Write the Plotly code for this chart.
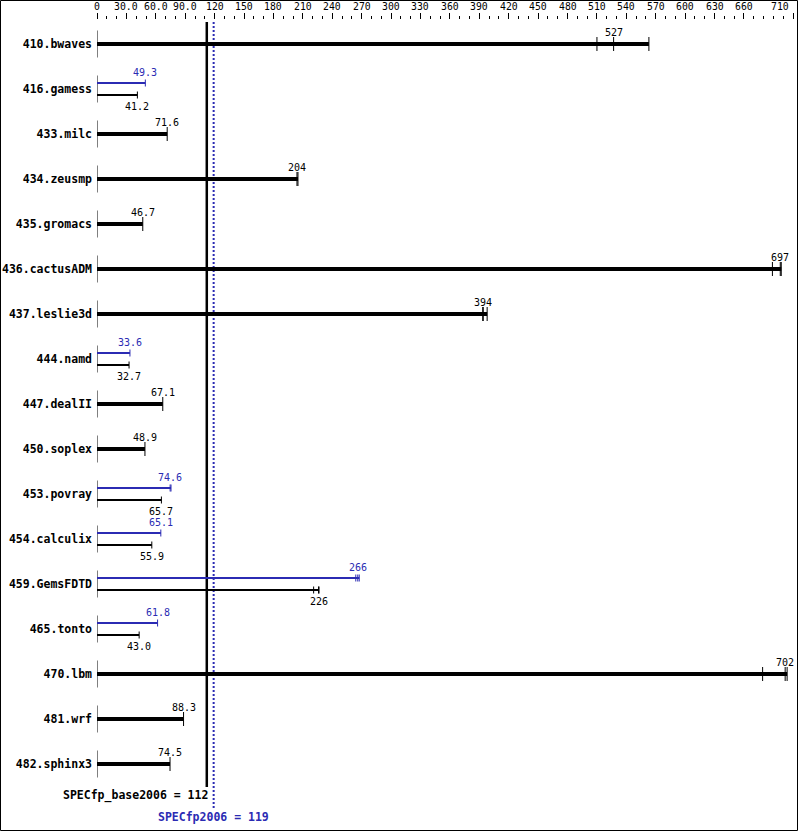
import plotly.graph_objects as go

benchmarks = ["410.bwaves", "416.gamess", "433.milc", "434.zeusmp", "435.gromacs",
              "436.cactusADM", "437.leslie3d", "444.namd", "447.dealII", "450.soplex",
              "453.povray", "454.calculix", "459.GemsFDTD", "465.tonto", "470.lbm",
              "481.wrf", "482.sphinx3"]
base_ratio = [527, 41.2, 71.6, 204, 46.7, 697, 394, 32.7, 67.1, 48.9,
              65.7, 55.9, 226, 43.0, 702, 88.3, 74.5]
base_runs = [[510, 527, 563], [41.2], [71.6], [204, 205], [46.7], [689, 697, 698],
             [393.5, 394, 398], [32.7], [67.1], [48.9], [65.7], [55.9],
             [221, 226, 226.5], [43.0], [679, 702, 704], [88.3], [74.5]]
peak_ratio = [None, 49.3, None, None, None, None, None, 33.6, None, None,
              74.6, 65.1, 266, 61.8, None, None, None]
peak_runs = [None, [49.3], None, None, None, None, None, [33.6], None, None,
             [74.6, 75.5], [65.1], [264, 266, 267.5], [61.8], None, None, None]
base_mean = 112
peak_mean = 119
base_label = "SPECfp_base2006 = 112"
peak_label = "SPECfp2006 = 119"
x_tick_vals = [0, 30, 60, 90, 120, 150, 180, 210, 240, 270, 300, 330, 360, 390, 420,
               450, 480, 510, 540, 570, 600, 630, 660, 710]
x_tick_text = ["0", "30.0", "60.0", "90.0", "120", "150", "180", "210", "240", "270",
               "300", "330", "360", "390", "420", "450", "480", "510", "540", "570",
               "600", "630", "660", "710"]
x_minor_vals = list(range(0, 711, 10))

BLUE = "#2b2bb3"
MONO = "DejaVu Sans Mono"
ROW_PX = 45.0
PLOT_TOP = 20
FIG_W, FIG_H = 799, 831
L, R = 97, 6
ymin = -24 / ROW_PX
ymax = ymin + (FIG_H - PLOT_TOP) / ROW_PX
plot_w = FIG_W - L - R
plot_h = FIG_H - PLOT_TOP


def fmt(v):
    return str(int(round(v))) if v >= 100 else f"{v:.1f}"


def py(px):
    return (px - PLOT_TOP) / ROW_PX + ymin


fig = go.Figure()

thick_x, thick_y = [], []
thin_b_x, thin_b_y = [], []
thin_p_x, thin_p_y = [], []
tick_b_x, tick_b_y = [], []
tick_p_x, tick_p_y = [], []
row_x, row_y = [], []
annotations = []

for i, name in enumerate(benchmarks):
    row_x += [0, 0, None]
    row_y += [i - 13.5 / ROW_PX, i + 13.5 / ROW_PX, None]
    if peak_ratio[i] is None:
        runs = base_runs[i]
        thick_x += [0, max(runs), None]
        thick_y += [i, i, None]
        for r in runs:
            tick_b_x += [r, r, None]
            tick_b_y += [i - 7 / ROW_PX, i + 7 / ROW_PX, None]
        annotations.append(dict(x=base_ratio[i], y=i, text=fmt(base_ratio[i]), yshift=12,
                                showarrow=False, font=dict(family=MONO, size=10, color="black")))
    else:
        yp = i - 6 / ROW_PX
        yb = i + 6 / ROW_PX
        pr = peak_runs[i]
        br = base_runs[i]
        thin_p_x += [0, max(pr), None]
        thin_p_y += [yp, yp, None]
        thin_b_x += [0, max(br), None]
        thin_b_y += [yb, yb, None]
        for r in pr:
            tick_p_x += [r, r, None]
            tick_p_y += [yp - 3.5 / ROW_PX, yp + 3.5 / ROW_PX, None]
        for r in br:
            tick_b_x += [r, r, None]
            tick_b_y += [yb - 3.5 / ROW_PX, yb + 3.5 / ROW_PX, None]
        annotations.append(dict(x=peak_ratio[i], y=yp, text=fmt(peak_ratio[i]), yshift=11,
                                showarrow=False, font=dict(family=MONO, size=10, color=BLUE)))
        annotations.append(dict(x=base_ratio[i], y=yb, text=fmt(base_ratio[i]), yshift=-11,
                                showarrow=False, font=dict(family=MONO, size=10, color="black")))

def add_line(x, y, color, width, dash=None):
    fig.add_trace(go.Scatter(x=x, y=y, mode="lines", hoverinfo="skip", showlegend=False,
                             line=dict(color=color, width=width, dash=dash)))

add_line(row_x, row_y, "black", 1)
add_line([base_mean, base_mean], [py(22), py(787)], "black", 2.5)
add_line([peak_mean, peak_mean], [py(22), py(808)], BLUE, 2, "2px,2px")
add_line(thick_x, thick_y, "black", 4)
add_line(thin_b_x, thin_b_y, "black", 2)
add_line(thin_p_x, thin_p_y, BLUE, 2)
add_line(tick_b_x, tick_b_y, "black", 1)
add_line(tick_p_x, tick_p_y, BLUE, 1)

annotations.append(dict(x=base_mean, y=py(795), text="<b>" + base_label + "</b>", xanchor="right",
                        xshift=3, showarrow=False, font=dict(family=MONO, size=11.5, color="black")))
annotations.append(dict(x=peak_mean, y=py(817), text="<b>" + peak_label + "</b>", xanchor="center",
                        showarrow=False, font=dict(family=MONO, size=11.5, color=BLUE)))

# top tick labels drawn as text so the last one ("710") can stay inside the page
for v, t in zip(x_tick_vals, x_tick_text):
    last = v == x_tick_vals[-1]
    annotations.append(dict(x=v, xref="x", y=1 + 13 / plot_h, yref="paper", yanchor="middle",
                            xanchor="right" if last else "center", xshift=-2 if last else 0,
                            text=t, showarrow=False,
                            font=dict(family=MONO, size=9.8, color="black")))

fig.add_shape(type="rect", xref="paper", yref="paper",
              x0=(0.5 - L) / plot_w, x1=(797.5 - L) / plot_w,
              y0=(FIG_H - 830.5) / plot_h, y1=1 + (PLOT_TOP - 0.5) / plot_h,
              line=dict(color="black", width=1), fillcolor="rgba(0,0,0,0)", layer="above")

fig.update_layout(
    width=FIG_W, height=FIG_H,
    margin=dict(l=L, r=R, t=PLOT_TOP, b=0, pad=0),
    paper_bgcolor="white", plot_bgcolor="white",
    showlegend=False,
    annotations=annotations,
    xaxis=dict(range=[0, 710], side="top", showgrid=False, zeroline=False, showline=False,
               tickmode="array", tickvals=x_tick_vals, showticklabels=False,
               ticks="outside", ticklen=6, tickwidth=1, tickcolor="black",
               minor=dict(tickmode="array", tickvals=x_minor_vals, ticks="outside",
                          ticklen=3, tickwidth=1, tickcolor="black", showgrid=False),
               fixedrange=True),
    yaxis=dict(range=[ymax, ymin], showgrid=False, zeroline=False, showline=False,
               tickmode="array", tickvals=list(range(len(benchmarks))),
               ticktext=["<b>" + b + "</b>" for b in benchmarks],
               ticks="", ticklabelstandoff=4,
               tickfont=dict(family=MONO, size=11.5, color="black"),
               fixedrange=True),
)

fig.write_html("out.html", config={"displayModeBar": False},
               post_script="document.body.style.margin='0';document.body.style.overflow='hidden';"
                           "document.documentElement.style.overflow='hidden';")
